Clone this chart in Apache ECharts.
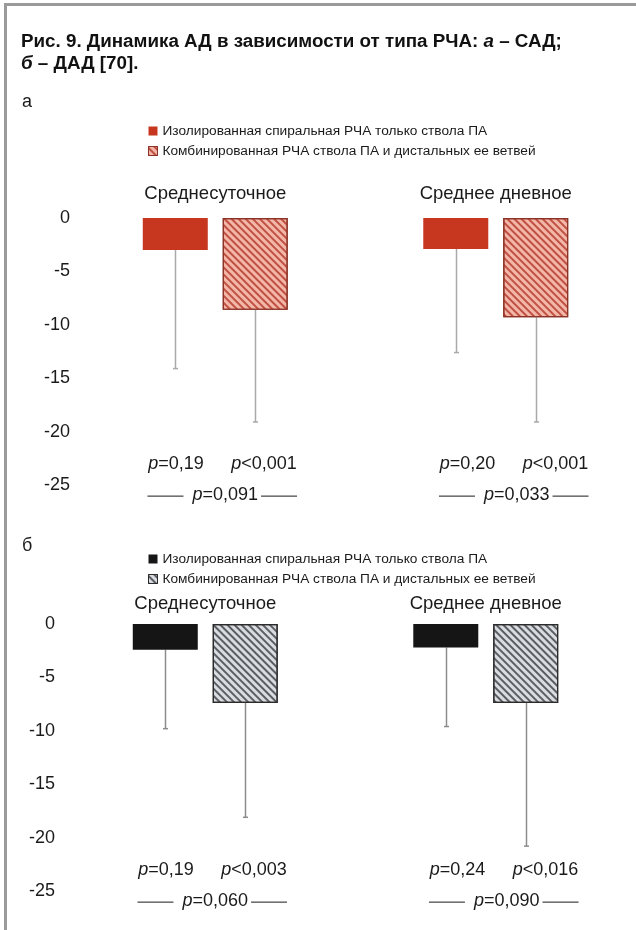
<!DOCTYPE html>
<html><head><meta charset="utf-8">
<script src="https://cdn.jsdelivr.net/npm/echarts@6/dist/echarts.min.js"></script>
<style>html,body{margin:0;padding:0;background:#fff}#c{width:636px;height:930px}</style>
</head><body><div id="c"></div>
<script>
// ---------- data ----------
const categories = ['Среднесуточное', 'Среднее дневное'];
const seriesNames = ['Изолированная спиральная РЧА только ствола ПА', 'Комбинированная РЧА ствола ПА и дистальных ее ветвей'];
const yTicks = [0, -5, -10, -15, -20, -25];
// Panel а – САД
const sadIsolated = [-3.0, -2.9];
const sadCombined = [-8.6, -9.3];
const sadIsolatedLow = [-14.1, -12.6];
const sadCombinedLow = [-19.1, -19.1];
const sadPBars = [['p=0,19', 'p<0,001'], ['p=0,20', 'p<0,001']];
const sadPBetween = ['p=0,091', 'p=0,033'];
// Panel б – ДАД
const dadIsolated = [-2.4, -2.2];
const dadCombined = [-7.4, -7.4];
const dadIsolatedLow = [-9.8, -9.6];
const dadCombinedLow = [-18.1, -20.8];
const dadPBars = [['p=0,19', 'p<0,003'], ['p=0,24', 'p<0,016']];
const dadPBetween = ['p=0,060', 'p=0,090'];

// ---------- layout / style ----------
const FONT = "'Liberation Sans', Arial, Helvetica, sans-serif";
const BAR_W = 65, BAR_GAP = '23%';
const mctx = document.createElement('canvas').getContext('2d');
function textW(t, size) { mctx.font = size + 'px ' + FONT; return mctx.measureText(t).width; }
function rich(s) { return s.replace(/^p/, '{i|p}'); }

const panels = [
  { iso: sadIsolated, comb: sadCombined, isoLow: sadIsolatedLow, combLow: sadCombinedLow,
    pBars: sadPBars, pBetween: sadPBetween,
    isoColor: '#c7371f', combColor: '#f2b7a9', decalColor: 'rgba(180,55,40,0.8)', combBorder: '#8c3327',
    whisker: '#a9a9a9', grid: { left: 75, top: 218, width: 561, height: 267 },
    titleMargin: 15, labelMargin: 5, legendTop: 119, letter: 'а', letterTop: 93 },
  { iso: dadIsolated, comb: dadCombined, isoLow: dadIsolatedLow, combLow: dadCombinedLow,
    pBars: dadPBars, pBetween: dadPBetween,
    isoColor: '#151515', combColor: '#d9dce1', decalColor: 'rgba(60,62,68,0.8)', combBorder: '#2b2b2b',
    whisker: '#8c8c8c', grid: { left: 65, top: 624, width: 561, height: 267 },
    titleMargin: 11, labelMargin: 10, legendTop: 547, letter: 'б', letterTop: 537 }
];
const pRowY = [-23, -25.9];
const catShift = [0, 11];

function decalFor(p) {
  return { symbol: 'rect', symbolSize: 1, color: p.decalColor, dashArrayX: [1, 0], dashArrayY: [1.6, 2.6], rotation: Math.PI / 4 };
}

const grid = [], xAxis = [], yAxis = [], series = [], legend = [];
const title = [{
  text: 'Рис. 9. Динамика АД в зависимости от типа РЧА: {i|а} – САД;\n{i|б} – ДАД [70].',
  left: 21, top: 31, padding: 0,
  textStyle: { fontFamily: FONT, fontSize: 18.8, fontWeight: 'bold', color: '#111', lineHeight: 22,
    rich: { i: { fontFamily: FONT, fontSize: 18.8, fontWeight: 'bold', fontStyle: 'italic', color: '#111', lineHeight: 22 } } }
}];

panels.forEach((p, k) => {
  grid.push(Object.assign({ containLabel: false }, p.grid));
  xAxis.push({ type: 'category', gridIndex: k, data: categories, position: 'top',
    axisLine: { show: false }, axisTick: { show: false }, splitLine: { show: false },
    axisLabel: { margin: p.titleMargin, fontFamily: FONT, fontSize: 18.5, color: '#1a1a1a' } });
  yAxis.push({ type: 'value', gridIndex: k, min: yTicks[yTicks.length - 1], max: yTicks[0], interval: 5,
    axisLine: { show: false }, axisTick: { show: false }, splitLine: { show: false },
    axisLabel: { margin: p.labelMargin, fontFamily: FONT, fontSize: 18, color: '#1a1a1a' } });
  title.push({ text: p.letter, left: 22, top: p.letterTop, padding: 0,
    textStyle: { fontFamily: FONT, fontSize: 18, fontWeight: 'normal', color: '#1a1a1a' } });

  const isoStyle = { color: p.isoColor };
  const combStyle = { color: p.combColor, decal: decalFor(p), borderColor: p.combBorder, borderWidth: 1.2 };
  series.push({ type: 'bar', name: seriesNames[0], xAxisIndex: k, yAxisIndex: k, data: p.iso,
    barWidth: BAR_W, barGap: BAR_GAP, itemStyle: isoStyle, silent: true });
  series.push({ type: 'bar', name: seriesNames[1], xAxisIndex: k, yAxisIndex: k, data: p.comb,
    barWidth: BAR_W, barGap: BAR_GAP, itemStyle: combStyle, silent: true });

  // whiskers
  const wdata = [];
  categories.forEach((c, i) => {
    wdata.push([i, p.iso[i], p.isoLow[i], 0]);
    wdata.push([i, p.comb[i], p.combLow[i], 1]);
  });
  series.push({ type: 'custom', xAxisIndex: k, yAxisIndex: k, data: wdata, silent: true, clip: false, z: 1,
    encode: { x: 0, y: [1, 2] },
    renderItem: function (params, api) {
      const cat = api.value(0), v = api.value(1), e = api.value(2), s = api.value(3);
      const lay = api.barLayout({ count: 2, barWidth: BAR_W, barGap: BAR_GAP });
      const a = api.coord([cat, v]), b = api.coord([cat, e]);
      const x = Math.round(a[0] + lay[s].offsetCenter) + 0.5;
      const st = { stroke: p.whisker, lineWidth: 1.5 };
      return { type: 'group', children: [
        { type: 'line', shape: { x1: x, y1: a[1], x2: x, y2: b[1] }, style: st },
        { type: 'line', shape: { x1: x - 2.5, y1: b[1], x2: x + 2.5, y2: b[1] }, style: st }
      ] };
    } });

  // p-value annotations
  series.push({ type: 'custom', xAxisIndex: k, yAxisIndex: k, data: categories.map((c, i) => [i, pRowY[0]]),
    silent: true, clip: false, encode: { x: 0, y: 1 },
    renderItem: function (params, api) {
      const i = params.dataIndex;
      const c1 = api.coord([i, pRowY[0]]), c2 = api.coord([i, pRowY[1]]);
      const cx = c1[0] + catShift[i];
      const fs = 18;
      const tstyle = (txt, x, y, align) => ({ type: 'text', style: {
        text: rich(txt), x: x, y: y, align: align, verticalAlign: 'middle',
        fontFamily: FONT, fontSize: fs, fill: '#1a1a1a',
        rich: { i: { fontFamily: FONT, fontSize: fs, fontStyle: 'italic', fill: '#1a1a1a' } } } });
      const mid = p.pBetween[i];
      const w = textW(mid, fs);
      const mx = cx + 10;
      const ly = c2[1] + 1.5;
      const ls = { stroke: '#1a1a1a', lineWidth: 1 };
      return { type: 'group', children: [
        tstyle(p.pBars[i][0], cx - 67, c1[1], 'left'),
        tstyle(p.pBars[i][1], cx + 16, c1[1], 'left'),
        tstyle(mid, mx, c2[1], 'center'),
        { type: 'line', shape: { x1: mx - w / 2 - 45, y1: ly, x2: mx - w / 2 - 9, y2: ly }, style: ls },
        { type: 'line', shape: { x1: mx + w / 2 + 3, y1: ly, x2: mx + w / 2 + 39, y2: ly }, style: ls }
      ] };
    } });

  legend.push({ orient: 'vertical', left: 143, top: p.legendTop, itemWidth: 9, itemHeight: 9, itemGap: 6,
    icon: 'rect', selectedMode: false,
    textStyle: { fontFamily: FONT, fontSize: 13.7, color: '#1a1a1a', lineHeight: 14 },
    data: [{ name: seriesNames[0], itemStyle: isoStyle },
           { name: seriesNames[1], itemStyle: { color: p.combColor, decal: decalFor(p), borderColor: p.combBorder, borderWidth: 1 } }] });
});

const chart = echarts.init(document.getElementById('c'));
chart.setOption({
  animation: false,
  backgroundColor: '#fff',
  title, grid, xAxis, yAxis, series, legend,
  graphic: [
    { type: 'rect', shape: { x: 4, y: 3, width: 632, height: 3 }, style: { fill: '#9a9a9a' }, silent: true },
    { type: 'rect', shape: { x: 4, y: 3, width: 3, height: 927 }, style: { fill: '#9a9a9a' }, silent: true }
  ]
});
</script>
</body></html>
